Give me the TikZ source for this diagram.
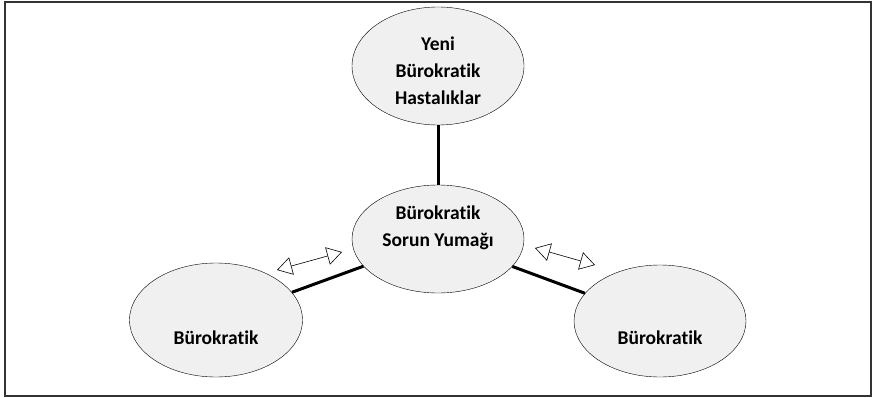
\documentclass[tikz,border=0pt]{standalone}
\usepackage{fontspec}
\setmainfont{Carlito}[Ligatures=NoCommon]
\usepackage{xcolor}
\usetikzlibrary{shapes.geometric}
\usetikzlibrary{arrows.meta}
\definecolor{bubblegray}{HTML}{F0F0F0}
\definecolor{framegray}{HTML}{333333}

\begin{document}
\begin{tikzpicture}[x=1pt,y=-1pt,
    bubble/.style={ellipse, draw, thin, fill=bubblegray, inner sep=0pt},
    word/.style={align=center, font=\fontsize{19.5}{27}\selectfont\bfseries},
    link/.style={line width=3pt},
    swap/.style={semithick, {Triangle[open,length=15pt,width=18pt]}-{Triangle[open,length=15pt,width=18pt]}}]
        \useasboundingbox (0,0) rectangle (874,398);
        %CERCEVE
        \draw[framegray, line width=1.5pt] (5,2) rectangle (871,396);
        %ELIPSLER
        \node[bubble, minimum width=172pt, minimum height=118pt] (yeni) at (438,66) {};
        \node[bubble, minimum width=172pt, minimum height=108pt] (yumak) at (438,239) {};
        \node[bubble, minimum width=173pt, minimum height=114pt] (sol) at (216,320) {};
        \node[bubble, minimum width=172pt, minimum height=112pt] (sag) at (660,321) {};
        %YAZILAR
        \node[word] (yeniText) at (438,71) {Yeni\\Bürokratik\\Hastalıklar};
        \node[word] (yumakText) at (438,228) {Bürokratik\\Sorun Yumağı};
        \node[word] (solText) at (216,338) {Bürokratik};
        \node[word] (sagText) at (660,338) {Bürokratik};
        %BAGLANTILAR
        \draw[link] (yeni) -- (yumak);
        \draw[link] (yumak) -- (sol);
        \draw[link] (yumak) -- (sag);
        %OKLAR
        \coordinate (solA) at (277,270);
        \coordinate (solB) at (342,252);
        \coordinate (sagA) at (535,248);
        \coordinate (sagB) at (595,265);
        \draw[swap] (solA) -- (solB);
        \draw[swap] (sagA) -- (sagB);
\end{tikzpicture}
\end{document}
